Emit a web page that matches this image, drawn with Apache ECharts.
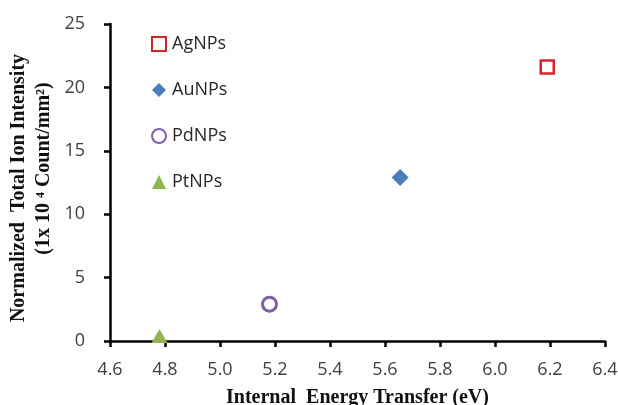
<!DOCTYPE html>
<html>
<head>
<meta charset="utf-8">
<script src="https://cdn.jsdelivr.net/npm/echarts@6/dist/echarts.min.js"></script>
<style>
  html, body { margin: 0; padding: 0; background: #fff; }
  #chart { width: 618px; height: 405px; }
</style>
</head>
<body>
<div id="chart"></div>
<script>
// Nanoparticle labels and measured points: [energy transfer (eV), intensity]
const particles = ['AgNPs', 'AuNPs', 'PdNPs', 'PtNPs'];
const agData = [[6.19, 21.6]];
const auData = [[5.655, 12.9]];
const pdData = [[5.18, 2.9]];
const ptData = [[4.78, 0.4]];
const xTicks = [4.6, 4.8, 5.0, 5.2, 5.4, 5.6, 5.8, 6.0, 6.2, 6.4];
const yTicks = [0, 5, 10, 15, 20, 25];

const chart = echarts.init(document.getElementById('chart'));

const tickFont = { color: '#404040', fontSize: 18, fontFamily: 'Open Sans' };
const titleFont = { color: '#111', fontSize: 20, fontWeight: 'bold', fontFamily: 'Liberation Serif' };

chart.setOption({
  animation: false,
  backgroundColor: '#fff',
  grid: { left: 110, right: 13, top: 24, bottom: 64, containLabel: false, outerBoundsMode: 'none' },
  legend: {
    orient: 'vertical',
    left: 146,
    top: 30,
    itemGap: 28,
    itemWidth: 14,
    itemHeight: 14,
    textStyle: { color: '#262626', fontSize: 18, fontFamily: 'Open Sans', padding: [0, 0, 0, 1] },
    data: particles
  },
  xAxis: {
    type: 'value',
    min: xTicks[0],
    max: xTicks[xTicks.length - 1],
    interval: 0.2,
    axisLine: { onZero: false, lineStyle: { color: '#000', width: 2.5 } },
    axisTick: { show: true, length: 6, lineStyle: { color: '#000', width: 2.5 } },
    splitLine: { show: false },
    axisLabel: Object.assign({ margin: 20, formatter: v => v.toFixed(1) }, tickFont),
    name: 'Internal  Energy Transfer (eV)',
    nameLocation: 'middle',
    nameGap: 47,
    nameTextStyle: titleFont
  },
  yAxis: {
    type: 'value',
    min: yTicks[0],
    max: yTicks[yTicks.length - 1],
    interval: 5,
    axisLine: { show: true, lineStyle: { color: '#000', width: 2.5 } },
    axisTick: { show: true, length: 6, lineStyle: { color: '#000', width: 2.5 } },
    splitLine: { show: false },
    axisLabel: Object.assign({ margin: 25 }, tickFont),
    name: '{a|Normalized  Total Ion Intensity}\n{b|(1x 10 \u2074 Count/mm\u00b2)}',
    nameLocation: 'middle',
    nameRotate: 90,
    nameGap: 48,
    nameTextStyle: {
      rich: {
        a: Object.assign({ lineHeight: 25, padding: [0, 11, 0, 0] }, titleFont),
        b: Object.assign({ lineHeight: 25, padding: [0, 0, 0, 28] }, titleFont)
      }
    }
  },
  series: [
    {
      name: particles[0], type: 'scatter', data: agData,
      symbol: 'rect', symbolSize: 13,
      itemStyle: { color: '#fff', borderColor: '#d8232a', borderWidth: 2.5, opacity: 1 }
    },
    {
      name: particles[1], type: 'scatter', data: auData,
      symbol: 'diamond', symbolSize: 17,
      itemStyle: { color: '#4a7ebb', opacity: 1 }
    },
    {
      name: particles[2], type: 'scatter', data: pdData,
      symbol: 'circle', symbolSize: 14,
      itemStyle: { color: '#fff', borderColor: '#7f60a8', borderWidth: 3, opacity: 1 }
    },
    {
      name: particles[3], type: 'scatter', data: ptData,
      symbol: 'triangle', symbolSize: [16, 14],
      itemStyle: { color: '#8fb650', opacity: 1 }
    }
  ]
});
</script>
</body>
</html>
